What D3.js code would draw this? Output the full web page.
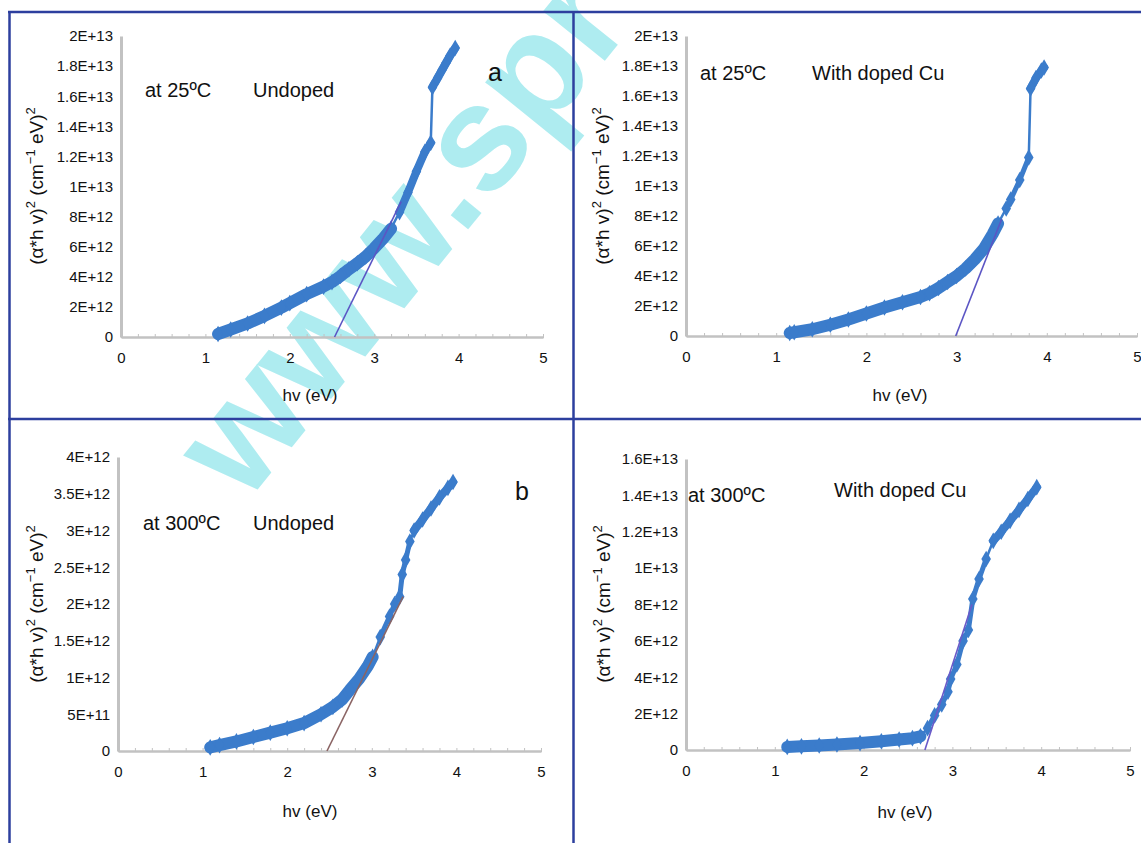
<!DOCTYPE html>
<html>
<head>
<meta charset="utf-8">
<script src="https://cdn.jsdelivr.net/npm/d3@7"></script>
<style>
body { margin: 0; background: #fff; }
svg { display: block; }
text { font-family: "Liberation Sans", Arial, sans-serif; }
</style>
</head>
<body>
<div id="container"></div>
<script>
var width = 1141;
var height = 843;

// hv (eV) ticks, same for all panels
var xTicks = [0, 1, 2, 3, 4, 5];

// y ticks are in units of 1E+12
var yTicks25 = [0, 2, 4, 6, 8, 10, 12, 14, 16, 18, 20];
var yLabels25 = ["0", "2E+12", "4E+12", "6E+12", "8E+12", "1E+13", "1.2E+13", "1.4E+13", "1.6E+13", "1.8E+13", "2E+13"];
var yTicks300u = [0, 0.5, 1, 1.5, 2, 2.5, 3, 3.5, 4];
var yLabels300u = ["0", "5E+11", "1E+12", "1.5E+12", "2E+12", "2.5E+12", "3E+12", "3.5E+12", "4E+12"];
var yTicks300cu = [0, 2, 4, 6, 8, 10, 12, 14, 16];
var yLabels300cu = ["0", "2E+12", "4E+12", "6E+12", "8E+12", "1E+13", "1.2E+13", "1.4E+13", "1.6E+13"];

// (alpha*hv)^2: [hv, value / 1E+12], split where the trace thins out
var undoped25 = [
    [[1.15, 0.2], [1.3, 0.5], [1.5, 0.9], [1.7, 1.4], [1.9, 1.95], [2.0, 2.25], [2.2, 2.85], [2.4, 3.35],
     [2.5, 3.65], [2.6, 4.05], [2.7, 4.5], [2.8, 4.9], [2.9, 5.35], [3.0, 5.9], [3.1, 6.5], [3.2, 7.2]],
    [[3.3, 8.3], [3.4, 9.6], [3.5, 11.0], [3.6, 12.3], [3.67, 12.9]],
    [[3.69, 16.6], [3.75, 17.2], [3.8, 17.7], [3.85, 18.2], [3.9, 18.7], [3.96, 19.2]]
];
var cu25 = [
    [[1.15, 0.2], [1.2, 0.25], [1.4, 0.45], [1.6, 0.75], [1.8, 1.1], [2.0, 1.5], [2.2, 1.9], [2.4, 2.25],
     [2.6, 2.6], [2.7, 2.85], [2.8, 3.2], [2.9, 3.6], [3.0, 4.0], [3.1, 4.5], [3.2, 5.1], [3.3, 5.8],
     [3.4, 6.8], [3.46, 7.5]],
    [[3.55, 8.5], [3.6, 9.1], [3.7, 10.4], [3.8, 11.9]],
    [[3.82, 16.5], [3.88, 17.2], [3.94, 17.7], [3.97, 17.9]]
];
var undoped300 = [
    [[1.09, 0.05], [1.2, 0.08], [1.4, 0.13], [1.6, 0.19], [1.8, 0.25], [2.0, 0.31], [2.2, 0.38], [2.4, 0.5],
     [2.54, 0.6], [2.65, 0.7], [2.74, 0.83], [2.85, 0.98], [2.95, 1.15], [3.01, 1.28]],
    [[3.1, 1.55], [3.21, 1.83], [3.27, 2.0], [3.33, 2.1], [3.36, 2.4], [3.4, 2.6], [3.45, 2.85]],
    [[3.5, 3.0], [3.6, 3.15], [3.7, 3.3], [3.8, 3.45], [3.9, 3.58], [3.96, 3.66]]
];
var cu300 = [
    [[1.14, 0.17], [1.3, 0.2], [1.5, 0.25], [1.7, 0.3], [1.96, 0.38], [2.2, 0.48], [2.4, 0.58], [2.55, 0.65],
     [2.64, 0.75]],
    [[2.72, 1.2], [2.8, 1.9], [2.88, 2.5], [2.95, 3.2], [2.98, 3.9], [3.05, 4.7], [3.12, 6.0], [3.18, 6.6],
     [3.23, 8.3], [3.3, 9.4], [3.38, 10.5]],
    [[3.46, 11.5], [3.55, 12.0], [3.65, 12.6], [3.75, 13.2], [3.85, 13.8], [3.95, 14.45]]
];

// straight-line extrapolations to the axis
var fitUndoped25 = [[2.53, 0], [3.32, 9.0]];
var fitCu25 = [[2.99, 0], [3.5, 7.8]];
var fitUndoped300 = [[2.47, 0], [3.37, 2.1]];
var fitCu300 = [[2.69, 0], [3.22, 8.0]];

var dataBlue = "#3b7ccb";
var frameBlue = "#2d3f9e";
var axisGrey = "#c2c2c2";

var panels = [
    { x0: 121, x1: 543, yb: 337, yt: 36, ymax: 20, ticks: yTicks25, labels: yLabels25,
      data: undoped25, bands: [12, 8, 8], fit: fitUndoped25, fitColor: "#5b55c4",
      notes: [["at 25ºC", 145, 97, 20], ["Undoped", 253, 97, 20], ["a", 488, 81, 25]],
      ylabX: 43, ylabY: 186, xlabX: 310, xlabY: 401 },
    { x0: 686, x1: 1137, yb: 336, yt: 36, ymax: 20, ticks: yTicks25, labels: yLabels25,
      data: cu25, bands: [12, 5, 8], fit: fitCu25, fitColor: "#5b55c4",
      notes: [["at 25ºC", 700, 80, 20], ["With doped Cu", 812, 80, 20]],
      ylabX: 609, ylabY: 186, xlabX: 900, xlabY: 401 },
    { x0: 118, x1: 541, yb: 751, yt: 457, ymax: 4, ticks: yTicks300u, labels: yLabels300u,
      data: undoped300, bands: [12, 5, 8], fit: fitUndoped300, fitColor: "#8a6464",
      notes: [["at 300ºC", 143, 530, 20], ["Undoped", 253, 530, 20], ["b", 515, 500, 25]],
      ylabX: 43, ylabY: 604, xlabX: 310, xlabY: 817 },
    { x0: 686, x1: 1130, yb: 750, yt: 459, ymax: 16, ticks: yTicks300cu, labels: yLabels300cu,
      data: cu300, bands: [12, 5, 8], fit: fitCu300, fitColor: "#6a5ac8",
      notes: [["at 300ºC", 688, 502, 20], ["With doped Cu", 834, 497, 20]],
      ylabX: 610, ylabY: 604, xlabX: 905, xlabY: 818 }
];

var svg = d3.select("#container")
    .append("svg")
    .attr("width", width)
    .attr("height", height);

// publisher watermark, behind the plots
svg.append("text")
    .attr("transform", "translate(245,505) rotate(-51)")
    .attr("font-size", "150px")
    .attr("font-weight", "bold")
    .attr("fill", "#aeecf0")
    .text("www.spr");

panels.forEach(function (p) {
    var x = d3.scaleLinear().domain([0, 5]).range([p.x0, p.x1]);
    var y = d3.scaleLinear().domain([0, p.ymax]).range([p.yb, p.yt]);
    var g = svg.append("g");

    // small ticks along hv axis
    var minor = g.append("g")
        .attr("transform", "translate(0," + p.yb + ")")
        .call(d3.axisBottom(x).ticks(25).tickSize(-4).tickFormat(""));
    minor.select(".domain").remove();
    minor.selectAll("line").attr("stroke", axisGrey).attr("transform", "translate(0,1)");

    var xAxis = g.append("g")
        .attr("transform", "translate(0," + p.yb + ")")
        .call(d3.axisBottom(x).tickValues(xTicks).tickSize(0).tickPadding(15).tickFormat(d3.format("d")));
    xAxis.select(".domain").attr("stroke", axisGrey).attr("stroke-width", 2.5);
    xAxis.selectAll("text").attr("font-size", "15px").attr("fill", "#111")
        .attr("font-family", "Liberation Sans, Arial, sans-serif");

    var yAxis = g.append("g")
        .attr("transform", "translate(" + p.x0 + ",0)")
        .call(d3.axisLeft(y).tickValues(p.ticks).tickSize(0).tickPadding(8)
            .tickFormat(function (d, i) { return p.labels[i]; }));
    yAxis.select(".domain").attr("stroke", axisGrey).attr("stroke-width", 3);
    yAxis.selectAll("text").attr("font-size", "15px").attr("fill", "#111")
        .attr("font-family", "Liberation Sans, Arial, sans-serif");

    var line = d3.line()
        .x(function (d) { return x(d[0]); })
        .y(function (d) { return y(d[1]); });

    // thin connecting trace through every reading
    g.append("path")
        .attr("d", line(d3.merge(p.data)))
        .attr("fill", "none")
        .attr("stroke", dataBlue)
        .attr("stroke-width", 2.5);

    // thick bands where points are dense
    p.data.forEach(function (seg, i) {
        g.append("path")
            .attr("d", line(seg))
            .attr("fill", "none")
            .attr("stroke", dataBlue)
            .attr("stroke-width", p.bands[i])
            .attr("stroke-linejoin", "round")
            .attr("stroke-linecap", "round");
    });

    g.selectAll(".pt")
        .data(d3.merge(p.data))
        .enter()
        .append("path")
        .attr("d", d3.symbol(d3.symbolDiamond).size(80))
        .attr("transform", function (d) { return "translate(" + x(d[0]) + "," + y(d[1]) + ")"; })
        .attr("fill", dataBlue);

    g.append("path")
        .attr("d", line(p.fit))
        .attr("fill", "none")
        .attr("stroke", p.fitColor)
        .attr("stroke-width", 1.6);

    p.notes.forEach(function (n) {
        g.append("text")
            .attr("x", n[1])
            .attr("y", n[2])
            .attr("font-size", n[3] + "px")
            .attr("fill", "#111")
            .text(n[0]);
    });

    g.append("text")
        .attr("x", p.xlabX)
        .attr("y", p.xlabY)
        .attr("text-anchor", "middle")
        .attr("font-size", "17px")
        .attr("fill", "#111")
        .text("hv (eV)");

    var yl = g.append("text")
        .attr("transform", "translate(" + p.ylabX + "," + p.ylabY + ") rotate(-90)")
        .attr("text-anchor", "middle")
        .attr("font-size", "19px")
        .attr("fill", "#111");
    yl.append("tspan").text("(α*h v)");
    yl.append("tspan").attr("dy", -8).attr("font-size", "13px").text("2");
    yl.append("tspan").attr("dy", 8).text(" (cm");
    yl.append("tspan").attr("dy", -8).attr("font-size", "13px").text("−1");
    yl.append("tspan").attr("dy", 8).text(" eV)");
    yl.append("tspan").attr("dy", -8).attr("font-size", "13px").text("2");
});

// panel frame
var frame = svg.append("g").attr("stroke", frameBlue).attr("stroke-width", 2.5);
frame.append("line").attr("x1", 8).attr("x2", width).attr("y1", 12).attr("y2", 12);
frame.append("line").attr("x1", 8).attr("x2", width).attr("y1", 419).attr("y2", 419);
frame.append("line").attr("x1", 9.5).attr("x2", 9.5).attr("y1", 11).attr("y2", height);
frame.append("line").attr("x1", 573.5).attr("x2", 573.5).attr("y1", 11).attr("y2", height);
</script>
</body>
</html>
